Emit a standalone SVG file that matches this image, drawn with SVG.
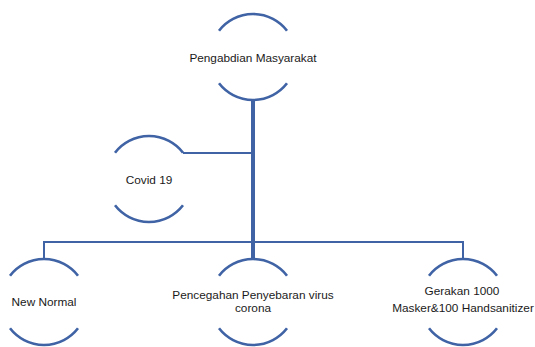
<svg xmlns="http://www.w3.org/2000/svg" width="535" height="347" viewBox="0 0 535 347">
<style>
.arc{fill:none;stroke:#3F63A5;stroke-width:2.6}
.ln{fill:none;stroke:#3F63A5;stroke-width:2}
.thick{fill:none;stroke:#3F63A5;stroke-width:4}
text{font-family:"Liberation Sans",Arial,sans-serif;font-size:11.8px;fill:#1a1a1a;text-anchor:middle}
</style>
<rect width="535" height="347" fill="#ffffff"/>
<g id="connectors">
<path class="thick" d="M253,100 V259"/>
<path class="ln" d="M183,153 H253"/>
<path class="ln" d="M44,259 V242 H463 V259"/>
</g>
<g id="pengabdian">
<path class="arc" d="M219,30.7 A43,43 0 0 1 287,30.7"/>
<path class="arc" d="M219,83.3 A43,43 0 0 0 287,83.3"/>
<text x="253" y="62">Pengabdian Masyarakat</text>
</g>
<g id="covid">
<path class="arc" d="M115,152.7 A43,43 0 0 1 183,152.7"/>
<path class="arc" d="M115,205.3 A43,43 0 0 0 183,205.3"/>
<text x="149" y="184">Covid 19</text>
</g>
<g id="newnormal">
<path class="arc" d="M10,275.7 A43,43 0 0 1 78,275.7"/>
<path class="arc" d="M10,328.3 A43,43 0 0 0 78,328.3"/>
<text x="44" y="306">New Normal</text>
</g>
<g id="pencegahan">
<path class="arc" d="M219,275.7 A43,43 0 0 1 287,275.7"/>
<path class="arc" d="M219,328.3 A43,43 0 0 0 287,328.3"/>
<text x="253" y="299">Pencegahan Penyebaran virus</text>
<text x="253" y="312">corona</text>
</g>
<g id="gerakan">
<path class="arc" d="M429,275.7 A43,43 0 0 1 497,275.7"/>
<path class="arc" d="M429,328.3 A43,43 0 0 0 497,328.3"/>
<text x="462" y="295">Gerakan 1000</text>
<text x="463" y="312">Masker&amp;100 Handsanitizer</text>
</g>
</svg>
